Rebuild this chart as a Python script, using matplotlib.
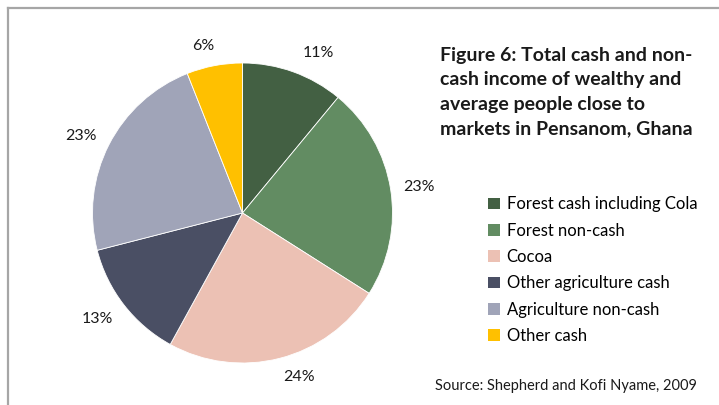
import numpy as np
import matplotlib
matplotlib.use("Agg")
import matplotlib.pyplot as plt
from matplotlib.lines import Line2D
from matplotlib.patches import Patch

plt.rcParams['font.family'] = ['Lato', 'DejaVu Sans']

categories = ["Forest cash including Cola", "Forest non-cash", "Cocoa",
              "Other agriculture cash", "Agriculture non-cash", "Other cash"]
shares = [11, 23, 24, 13, 23, 6]
colors = ["#436043", "#628c62", "#ecc1b4", "#4a4f64", "#a0a4b8", "#ffc000"]
# percent label placement: distance in pie radii, angular nudge in degrees
label_dist = [1.18, 1.19, 1.155, 1.2, 1.19, 1.145]
label_nudge = [-5.6, -0.6, 4.5, -1.7, 1.5, 2.3]

title = "Figure 6: Total cash and non-\ncash income of wealthy and\naverage people close to\nmarkets in Pensanom, Ghana"
source = "Source: Shepherd and Kofi Nyame, 2009"

W, H = 719, 405
fig = plt.figure(figsize=(W / 100, H / 100), dpi=100)

# pie axes: centre (242.5, 213) px, radius 150 px
cx, cy, r = 242.5, 213, 150
ax = fig.add_axes([(cx - r) / W, (H - cy - r) / H, 2 * r / W, 2 * r / H])
wedges, _ = ax.pie(shares, colors=colors, startangle=90, counterclock=False,
                   radius=1, wedgeprops=dict(edgecolor="white", linewidth=0.6))
ax.set_xlim(-1, 1)
ax.set_ylim(-1, 1)
ax.set_aspect("equal")
ax.axis("off")

for w, v, d, n in zip(wedges, shares, label_dist, label_nudge):
    ang = np.deg2rad((w.theta1 + w.theta2) / 2 + n)
    ax.text(d * np.cos(ang), d * np.sin(ang), f"{v}%", ha="center", va="center",
            fontsize=11.5, color="#1a1a1a", clip_on=False)

fig.text(440 / W, 1 - 47 / H, title, ha="left", va="top", fontsize=14,
         fontweight="bold", linespacing=1.52, color="#1a1a1a")

handles = [Patch(facecolor=c, edgecolor="none") for c in colors]
fig.legend(handles, categories, loc="upper left", bbox_to_anchor=(480 / W, 1 - 188 / H),
           frameon=False, fontsize=12, handlelength=0.7, handleheight=0.7,
           handletextpad=0.4, labelspacing=0.62, borderpad=0)

fig.text(435 / W, 1 - 386 / H, source, ha="left", va="center", fontsize=10.5,
         color="#1a1a1a")

# chart frame (top and left edges)
frame_col = "#a6a6a6"
fig.add_artist(Line2D([7.5 / W, 1], [1 - 7.5 / H] * 2, transform=fig.transFigure,
                      color=frame_col, lw=1.6))
fig.add_artist(Line2D([7.5 / W] * 2, [0, 1 - 7.5 / H], transform=fig.transFigure,
                      color=frame_col, lw=1.6))

fig.savefig("out.png", dpi=100, facecolor="white")
